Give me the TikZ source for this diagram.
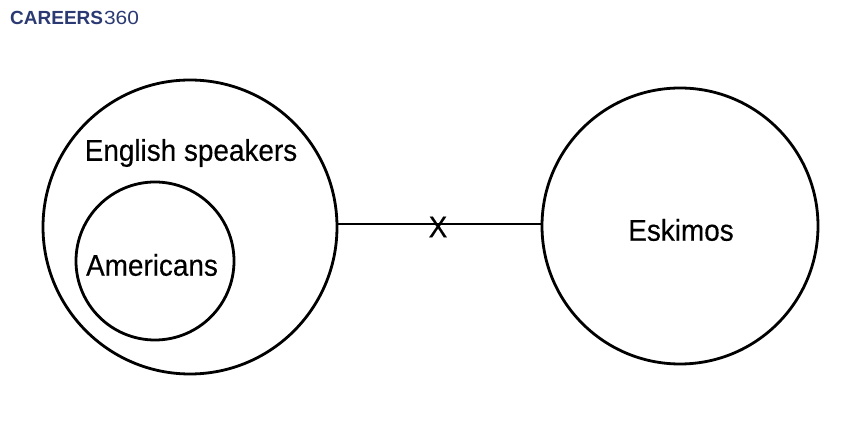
\documentclass[tikz,border=0pt]{standalone}
\usepackage{fontspec}
\setmainfont{Liberation Sans}
\newfontfamily\lblfont[FakeStretch=0.93, FakeBold=0.35]{Liberation Sans}
\definecolor{logoblue}{HTML}{2B3A73}
\begin{document}
\begin{tikzpicture}[x=1pt,y=-1pt,
  circ/.style={draw=black, line width=2.8pt, circle, inner sep=0pt},
  lbl/.style={font=\lblfont\fontsize{30}{34}\selectfont, inner sep=0pt},
  conn/.style={draw=black, line width=2.8pt}]
\useasboundingbox (0,0) rectangle (860,430);
\node[anchor=west, inner sep=0pt, text=logoblue, font=\fontsize{19}{22}\selectfont] (logo) at (10,18)
  {\textbf{CAREERS}\hspace{1pt}\scalebox{1.1}[1]{360}};
\node[circ, minimum size=294pt] (eng) at (190,227) {};
\node[circ, minimum size=158pt] (am) at (155,261) {};
\node[circ, minimum size=276pt] (esk) at (680,226) {};
\node[lbl] (engl) at (191,153) {English speakers};
\node[lbl] (aml) at (152,265) {Americans};
\node[lbl] (eskl) at (681,230) {Eskimos};
\coordinate (a) at (eng.east |- 0,224);
\coordinate (b) at (esk.west |- 0,224);
\draw[conn] (a) -- (b);
\node[lbl] (x) at (438,227) {X};
\end{tikzpicture}
\end{document}
